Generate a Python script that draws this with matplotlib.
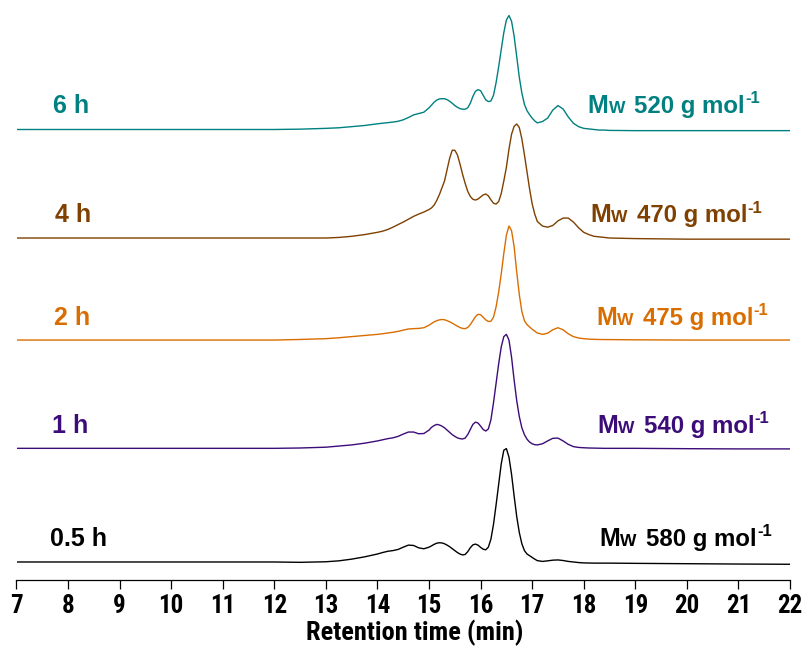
import matplotlib
matplotlib.use("Agg")
import matplotlib.pyplot as plt
from matplotlib import font_manager

# retention time grid (min)
rt = [7, 8, 9, 10, 11, 12, 12.5, 13, 13.25, 13.5, 13.75, 14.0, 14.1, 14.2, 14.3, 14.4, 14.5, 14.6, 14.7, 14.8, 14.9,
      15.0, 15.05, 15.1, 15.15, 15.2, 15.25, 15.3, 15.35, 15.4, 15.45, 15.5, 15.55, 15.6, 15.65, 15.7, 15.75, 15.8, 15.85, 15.9, 15.95,
      16.0, 16.05, 16.1, 16.15, 16.2, 16.25, 16.3, 16.35, 16.4, 16.45, 16.5, 16.55, 16.6, 16.65, 16.7, 16.75, 16.8, 16.85, 16.9, 16.95,
      17.0, 17.05, 17.1, 17.2, 17.3, 17.4, 17.5, 17.6, 17.7, 17.8, 17.9, 18.0, 18.1, 18.2, 18.3, 18.4, 18.5, 19, 20, 21, 22]

# normalised RI signal for each reaction time
sig_05h = [0, 0, 0, 0, 0, 0, -0.003, 0.002, 0.01, 0.025, 0.045, 0.07, 0.083, 0.094, 0.1, 0.11, 0.13, 0.148, 0.145, 0.124, 0.116,
           0.13, 0.142, 0.155, 0.165, 0.169, 0.167, 0.16, 0.148, 0.134, 0.117, 0.1, 0.083, 0.07, 0.062, 0.066, 0.09, 0.125, 0.15, 0.157, 0.148,
           0.128, 0.112, 0.107, 0.13, 0.2, 0.33, 0.5, 0.68, 0.86, 0.98, 0.995, 0.92, 0.77, 0.58, 0.4, 0.26, 0.16, 0.1, 0.07, 0.055,
           0.04, 0.025, 0.012, 0.005, 0.01, 0.016, 0.018, 0.013, 0.005, 0.0, -0.005, -0.008, -0.009, -0.01, -0.01, -0.01, -0.01, -0.012, -0.015, -0.018, -0.02]
sig_1h = [0, 0, 0, 0, 0, 0, 0.003, 0.01, 0.02, 0.03, 0.045, 0.065, 0.075, 0.085, 0.092, 0.105, 0.125, 0.143, 0.143, 0.128, 0.13,
          0.16, 0.185, 0.2, 0.21, 0.205, 0.195, 0.18, 0.16, 0.14, 0.12, 0.105, 0.092, 0.085, 0.082, 0.09, 0.12, 0.165, 0.21, 0.23, 0.222,
          0.195, 0.165, 0.152, 0.17, 0.25, 0.4, 0.57, 0.74, 0.89, 0.98, 1.0, 0.95, 0.8, 0.6, 0.42, 0.28, 0.18, 0.12, 0.08, 0.055,
          0.04, 0.032, 0.03, 0.04, 0.065, 0.088, 0.09, 0.065, 0.035, 0.015, 0.008, 0.005, 0.003, 0.002, 0.001, 0, 0, 0, -0.003, -0.005, -0.005]
sig_2h = [0, 0, 0, 0, 0, 0, 0.005, 0.012, 0.02, 0.03, 0.04, 0.05, 0.055, 0.062, 0.068, 0.076, 0.087, 0.097, 0.1, 0.102, 0.108,
          0.13, 0.145, 0.16, 0.17, 0.177, 0.18, 0.178, 0.17, 0.16, 0.148, 0.135, 0.122, 0.11, 0.102, 0.1, 0.11, 0.135, 0.17, 0.205, 0.226,
          0.222, 0.2, 0.177, 0.163, 0.165, 0.2, 0.29, 0.42, 0.58, 0.76, 0.92, 1.0, 0.96, 0.82, 0.6, 0.4, 0.25, 0.17, 0.135, 0.115,
          0.095, 0.078, 0.062, 0.05, 0.06, 0.09, 0.108, 0.09, 0.055, 0.03, 0.018, 0.012, 0.008, 0.006, 0.005, 0.004, 0.004, 0.002, 0, 0, 0]
sig_4h = [0, 0, 0, 0, 0, 0, 0, 0.0, 0.005, 0.015, 0.03, 0.05, 0.06, 0.075, 0.095, 0.118, 0.14, 0.165, 0.19, 0.21, 0.228,
          0.25, 0.265, 0.29, 0.33, 0.38, 0.44, 0.5, 0.6, 0.7, 0.77, 0.77, 0.73, 0.65, 0.56, 0.48, 0.41, 0.365, 0.34, 0.333, 0.342,
          0.36, 0.378, 0.386, 0.37, 0.335, 0.305, 0.298, 0.32, 0.39, 0.5, 0.62, 0.78, 0.91, 0.98, 1.0, 0.97, 0.87, 0.73, 0.58, 0.43,
          0.3, 0.21, 0.145, 0.105, 0.095, 0.11, 0.15, 0.175, 0.175, 0.14, 0.09, 0.05, 0.03, 0.015, 0.01, 0.005, 0.0, -0.005, -0.01, -0.01, -0.01]
sig_6h = [0, 0, 0, 0, 0, 0, 0.003, 0.01, 0.015, 0.025, 0.035, 0.05, 0.055, 0.06, 0.065, 0.072, 0.085, 0.105, 0.128, 0.14, 0.152,
          0.19, 0.215, 0.24, 0.258, 0.268, 0.27, 0.27, 0.262, 0.248, 0.23, 0.21, 0.195, 0.183, 0.178, 0.178, 0.19, 0.23, 0.29, 0.335, 0.35,
          0.34, 0.3, 0.26, 0.245, 0.25, 0.3, 0.41, 0.55, 0.7, 0.85, 0.96, 1.0, 0.95, 0.82, 0.64, 0.46, 0.32, 0.22, 0.165, 0.13,
          0.1, 0.075, 0.058, 0.07, 0.1, 0.17, 0.21, 0.18, 0.11, 0.055, 0.025, 0.01, 0.005, 0.0, -0.005, -0.005, -0.008, -0.01, -0.01, -0.01, -0.01]

times = ["0.5 h", "1 h", "2 h", "4 h", "6 h"]
mw = [580, 540, 475, 470, 520]
signals = [sig_05h, sig_1h, sig_2h, sig_4h, sig_6h]
colors = ["#000000", "#3c0c78", "#d96d00", "#7f4000", "#008080"]

# vertical stacking of the traces
offsets = [0, 0.997, 1.947, 2.842, 3.794]
label_y = [0.14, 1.13, 2.08, 2.98, 3.94]
left_x = [7.64, 7.69, 7.73, 7.75, 7.71]
right_x = [18.31, 18.27, 18.25, 18.13, 18.08]

# narrow bold face for the axis text (needs a real bold weight)
bold_names = {f.name for f in font_manager.fontManager.ttflist if f.weight in (700, "bold")}
narrow = "Liberation Sans"
for cand in ["Liberation Sans Narrow", "Arial Narrow", "Roboto Condensed", "Archivo Narrow",
             "Encode Sans Condensed", "Barlow Semi Condensed", "Asap Condensed"]:
    if cand in bold_names:
        narrow = cand
        break
plt.rcParams["font.family"] = ["Liberation Sans", "DejaVu Sans"]

fig = plt.figure(figsize=(8.08, 6.53), dpi=100)
ax = fig.add_axes([16.5 / 808, 73 / 653, 773.5 / 808, 580 / 653])

for sig, off, c in zip(signals, offsets, colors):
    ax.plot(rt, [v + off for v in sig], color=c, lw=1.0)

for i in range(len(times)):
    c = colors[i]
    ax.text(left_x[i], label_y[i], times[i], color=c, fontsize=18, fontweight="bold", va="baseline")
    # M_W label built from pieces so the W and the -1 can be sized separately
    t = ax.text(right_x[i], label_y[i], "M", color=c, fontsize=18, fontweight="bold", va="baseline")
    t = ax.annotate("W", xy=(1, label_y[i]), xycoords=(t, "data"), color=c, fontsize=12.5,
                    fontweight="bold", va="baseline")
    t = ax.annotate("%d g mol" % mw[i], xy=(1, label_y[i]), xycoords=(t, "data"), xytext=(6.5, 0),
                    textcoords="offset points", color=c, fontsize=17.3, fontweight="bold", va="baseline")
    ax.annotate("-1", xy=(1, label_y[i]), xycoords=(t, "data"), xytext=(0.3, 7),
                textcoords="offset points", color=c, fontsize=12, fontweight="bold", va="baseline")

ax.set_xlim(7, 22)
ax.set_ylim(-0.158, 4.93)
ax.set_xticks(range(7, 23))
ax.set_yticks([])
for s in ["left", "right", "top"]:
    ax.spines[s].set_visible(False)
ax.spines["bottom"].set_linewidth(0.9)
ax.tick_params(axis="x", direction="out", length=6.5, width=0.9, pad=3.5)
for lab in ax.get_xticklabels():
    lab.set_fontfamily([narrow, "DejaVu Sans"])
    lab.set_fontweight("bold")
    lab.set_fontsize(18)

ax.set_xlabel("Retention time (min)", fontsize=19, fontweight="bold", fontfamily=[narrow, "DejaVu Sans"])
ax.xaxis.set_label_coords((415 - 16.5) / 773.5, -53 / 580)
ax.xaxis.label.set_va("center")

fig.savefig("out.png", dpi=100)
